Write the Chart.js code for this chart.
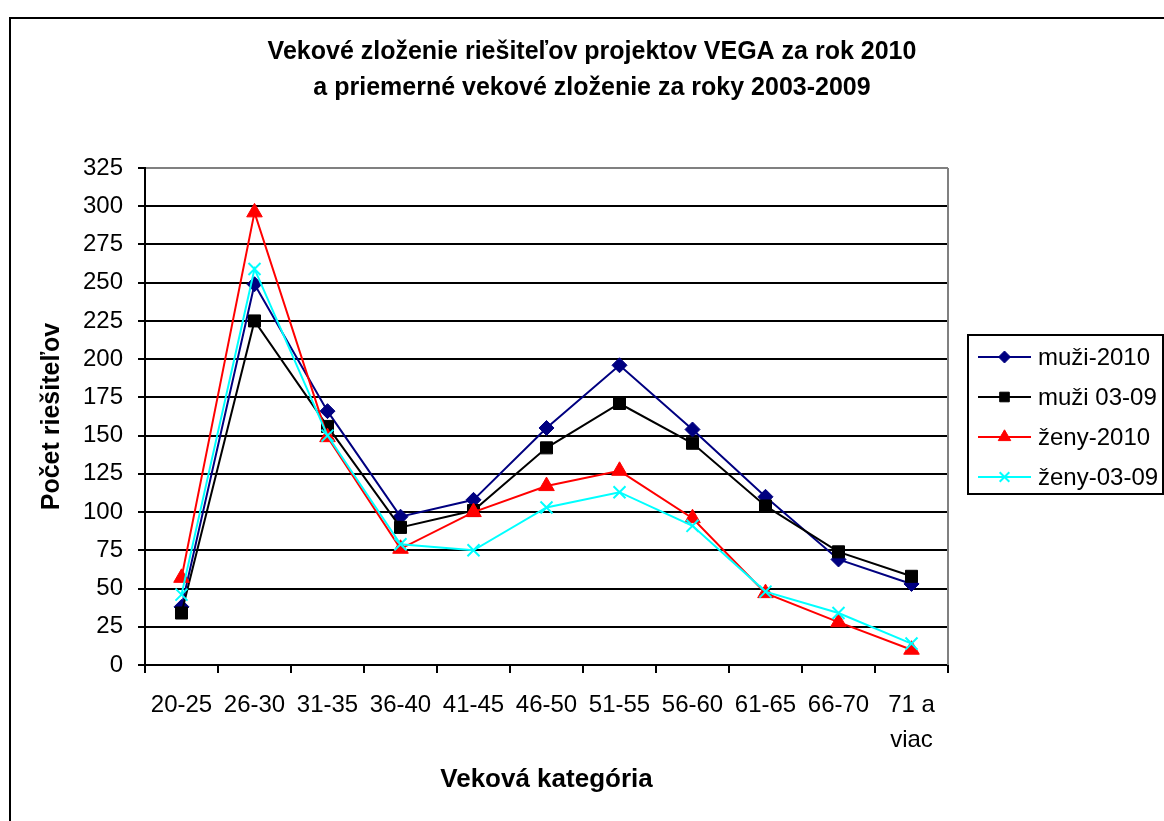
<!DOCTYPE html>
<html>
<head>
<meta charset="utf-8">
<script src="https://cdn.jsdelivr.net/npm/chart.js@4.4.1/dist/chart.umd.min.js"></script>
<style>
  html, body { margin: 0; padding: 0; background: #ffffff; }
  canvas { display: block; }
</style>
</head>
<body>
<canvas id="c" width="1164" height="821"></canvas>
<script>
// ---- Data ----
const categories = ['20-25', '26-30', '31-35', '36-40', '41-45', '46-50', '51-55', '56-60', '61-65', '66-70', ['71 a', 'viac']];
const seriesNames = ['muži-2010', 'muži 03-09', 'ženy-2010', 'ženy-03-09'];
const muzi2010 = [38, 249, 166, 97, 108, 155, 196, 154, 110, 69, 53];
const muzi0309 = [34, 225, 156, 90, 101, 142, 171, 145, 104, 74, 58];
const zeny2010 = [57, 296, 149, 76, 100, 117, 127, 96, 47, 28, 10];
const zeny0309 = [46, 259, 150, 79, 75, 103, 113, 91, 48, 34, 14];
const yMin = 0, yMax = 325, yStep = 25;
const titleLines = ['Vekové zloženie riešiteľov projektov VEGA za rok 2010', 'a priemerné vekové zloženie za roky 2003-2009'];
const xTitle = 'Veková kategória';
const yTitle = 'Počet riešiteľov';

const FONT = "'Liberation Sans', Arial, Helvetica, sans-serif";
Chart.defaults.font.family = FONT;
Chart.defaults.color = '#000000';

const styles = [
  { color: '#000080', point: 'rectRot', radius: 7.5, pbw: 1 },
  { color: '#000000', point: 'rect', radius: 8.5, pbw: 1 },
  { color: '#FF0000', point: 'triangle', radius: 9, pbw: 1 },
  { color: '#00FFFF', point: 'crossRot', radius: 8.5, pbw: 2 }
];
const values = [muzi2010, muzi0309, zeny2010, zeny0309];

const datasets = values.map((v, i) => ({
  label: seriesNames[i],
  data: v,
  borderColor: styles[i].color,
  backgroundColor: styles[i].color,
  pointBackgroundColor: styles[i].color,
  pointBorderColor: styles[i].color,
  pointStyle: styles[i].point,
  pointRadius: styles[i].radius,
  pointHoverRadius: styles[i].radius,
  pointBorderWidth: styles[i].pbw,
  borderWidth: 2,
  tension: 0,
  fill: false,
  order: 4 - i
}));

function drawMarker(ctx, style, x, y, r, color, bw) {
  ctx.save();
  ctx.fillStyle = color;
  ctx.strokeStyle = color;
  ctx.lineWidth = bw;
  ctx.beginPath();
  if (style === 'rectRot') {
    ctx.moveTo(x - r, y); ctx.lineTo(x, y - r); ctx.lineTo(x + r, y); ctx.lineTo(x, y + r); ctx.closePath();
    ctx.fill(); ctx.stroke();
  } else if (style === 'rect') {
    const s = r * Math.SQRT1_2;
    ctx.rect(x - s, y - s, 2 * s, 2 * s);
    ctx.fill(); ctx.stroke();
  } else if (style === 'triangle') {
    for (let k = 0; k < 3; k++) {
      const a = k * 2 * Math.PI / 3;
      const px = x + Math.sin(a) * r, py = y - Math.cos(a) * r;
      if (k === 0) ctx.moveTo(px, py); else ctx.lineTo(px, py);
    }
    ctx.closePath(); ctx.fill(); ctx.stroke();
  } else if (style === 'crossRot') {
    const s = r * Math.SQRT1_2;
    ctx.moveTo(x - s, y - s); ctx.lineTo(x + s, y + s);
    ctx.moveTo(x - s, y + s); ctx.lineTo(x + s, y - s);
    ctx.stroke();
  }
  ctx.restore();
}

const decorPlugin = {
  id: 'decor',
  afterDraw(chart) {
    const ctx = chart.ctx;
    const ca = chart.chartArea;
    ctx.save();
    // outer chart border
    ctx.strokeStyle = '#000000';
    ctx.lineWidth = 2;
    ctx.strokeRect(10, 18, 1200, 900);
    // plot area right border (gray)
    ctx.strokeStyle = '#808080';
    ctx.lineWidth = 2;
    ctx.beginPath();
    ctx.moveTo(ca.right, ca.top);
    ctx.lineTo(ca.right, ca.bottom);
    ctx.stroke();
    // legend
    const lx = ca.right + 20, ly = 335, lw = 195, lh = 159;
    ctx.strokeStyle = '#000000';
    ctx.lineWidth = 2;
    ctx.strokeRect(lx, ly, lw, lh);
    ctx.font = '24px ' + FONT;
    ctx.textBaseline = 'middle';
    ctx.textAlign = 'left';
    chart.data.datasets.forEach((ds, i) => {
      const cy = ly + 22 + i * 40;
      const st = styles[i];
      ctx.strokeStyle = ds.borderColor;
      ctx.lineWidth = 2;
      ctx.beginPath();
      ctx.moveTo(lx + 10, cy);
      ctx.lineTo(lx + 63, cy);
      ctx.stroke();
      drawMarker(ctx, st.point, lx + 36.5, cy, st.radius * 0.8, st.color, st.pbw);
      ctx.fillStyle = '#000000';
      ctx.fillText(ds.label, lx + 70, cy + 1);
    });
    ctx.restore();
  }
};

new Chart(document.getElementById('c'), {
  type: 'line',
  data: { labels: categories, datasets: datasets },
  plugins: [decorPlugin],
  options: {
    responsive: false,
    devicePixelRatio: 1,
    animation: false,
    layout: { padding: { left: 20, right: 0, top: 0, bottom: 0 } },
    plugins: {
      legend: { display: false },
      tooltip: { enabled: false },
      title: {
        display: true,
        text: titleLines,
        color: '#000000',
        font: { size: 25, weight: 'bold', lineHeight: 1.44, family: FONT },
        padding: { top: 34, bottom: 62 }
      }
    },
    scales: {
      x: {
        type: 'category',
        offset: true,
        grid: {
          display: true,
          offset: true,
          drawOnChartArea: false,
          drawTicks: true,
          tickLength: 8,
          color: '#000000',
          lineWidth: 2
        },
        border: { display: true, color: '#000000', width: 2 },
        ticks: {
          autoSkip: false,
          maxRotation: 0,
          minRotation: 0,
          padding: 15,
          color: '#000000',
          font: { size: 24, lineHeight: 1.45, family: FONT }
        },
        title: {
          display: true,
          text: xTitle,
          color: '#000000',
          font: { size: 26, weight: 'bold', lineHeight: 1.2, family: FONT },
          padding: { top: 0, bottom: 26 }
        },
        afterFit(s) { s.height = 156; }
      },
      y: {
        type: 'linear',
        position: 'left',
        min: yMin,
        max: yMax,
        ticks: {
          stepSize: yStep,
          padding: 15,
          color: '#000000',
          font: { size: 24, family: FONT }
        },
        grid: {
          color: (c) => (c.tick && c.tick.value === yMax ? '#808080' : '#000000'),
          tickColor: '#000000',
          lineWidth: 2,
          tickLength: 7,
          drawTicks: true
        },
        border: { display: true, color: '#000000', width: 2 },
        title: {
          display: true,
          text: yTitle,
          color: '#000000',
          font: { size: 25, weight: 'bold', lineHeight: 1.2, family: FONT },
          padding: { top: 17, bottom: 0 }
        },
        afterFit(s) { s.width = 125; }
      },
      yR: {
        type: 'linear',
        position: 'right',
        display: true,
        grid: { display: false, drawTicks: false },
        border: { display: false },
        ticks: { display: false },
        afterFit(s) { s.width = 216; }
      }
    }
  }
});
</script>
</body>
</html>
